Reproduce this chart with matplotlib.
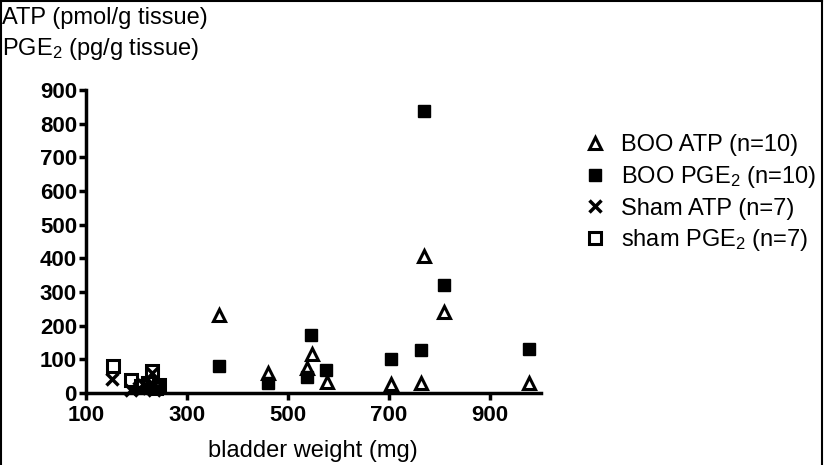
import numpy as np
import matplotlib
matplotlib.use('Agg')
import matplotlib.pyplot as plt
from matplotlib.lines import Line2D

plt.rcParams['font.family'] = ['Liberation Sans', 'DejaVu Sans']
plt.rcParams['mathtext.default'] = 'regular'

#------------ données ------------
boo_atp_x = [364, 460, 538, 548, 577, 704, 763, 769, 809, 977]
boo_atp_y = [231, 58, 75, 115, 34, 27, 29, 407, 241, 31]

boo_pge_x = [363, 460, 537, 545, 575, 703, 763, 769, 808, 977]
boo_pge_y = [80, 31, 47, 172, 68, 101, 128, 837, 320, 130]

sham_atp_x = [151, 190, 205, 215, 231, 235, 243]
sham_atp_y = [41, 10, 15, 25, 58, 8, 18]

sham_pge_x = [153, 189, 208, 222, 231, 238, 245]
sham_pge_y = [80, 39, 22, 30, 66, 15, 25]

labels = ['BOO ATP (n=10)', 'BOO PGE$_2$ (n=10)', 'Sham ATP (n=7)', 'sham PGE$_2$ (n=7)']
xticks = [100, 300, 500, 700, 900]
yticks = [0, 100, 200, 300, 400, 500, 600, 700, 800, 900]

#------------ figure ------------
W, H = 830, 465
fig = plt.figure(figsize=(W / 100, H / 100), dpi=100)
ax = fig.add_axes([86 / W, 1 - 393 / H, (540.5 - 86) / W, (393 - 90) / H])

ax.plot(boo_atp_x, boo_atp_y, ls='none', marker='^', ms=8, mfc='white', mec='black', mew=2.2, clip_on=False)
ax.plot(boo_pge_x, boo_pge_y, ls='none', marker='s', ms=8.5, mfc='black', mec='black', mew=1, clip_on=False)
ax.plot(sham_pge_x, sham_pge_y, ls='none', marker='s', ms=8, mfc='none', mec='black', mew=2.2, clip_on=False)
ax.plot(sham_atp_x, sham_atp_y, ls='none', marker='x', ms=9, mec='black', mew=2.5, clip_on=False)

ax.set_xlim(100, 1000)
ax.set_ylim(0, 900)
ax.set_xticks(xticks)
ax.set_yticks(yticks)

for s in ['top', 'right']:
    ax.spines[s].set_visible(False)
for s in ['left', 'bottom']:
    ax.spines[s].set_linewidth(2.5)
    ax.spines[s].set_capstyle('projecting')
ax.tick_params(width=2.5, length=5, labelsize=16)
ax.tick_params(axis='y', pad=1.5)
ax.tick_params(axis='x', pad=3.5)
for t in ax.get_xticklabels() + ax.get_yticklabels():
    t.set_fontweight('bold')

ax.set_xlabel('bladder weight (mg)', fontsize=17, labelpad=10)

fig.text(2 / W, 1 - 7 / H, 'ATP (pmol/g tissue)\nPGE$_2$ (pg/g tissue)', fontsize=17,
         ha='left', va='top', linespacing=1.35)

handles = [
    Line2D([], [], ls='none', marker='^', ms=8, mfc='white', mec='black', mew=2.2),
    Line2D([], [], ls='none', marker='s', ms=8.5, mfc='black', mec='black', mew=1),
    Line2D([], [], ls='none', marker='x', ms=9, mec='black', mew=2.5),
    Line2D([], [], ls='none', marker='s', ms=8, mfc='none', mec='black', mew=2.2),
]
ax.legend(handles, labels, loc='upper left', bbox_to_anchor=(583 / W, 1 - 134 / H),
          bbox_transform=fig.transFigure, frameon=False, fontsize=17,
          borderpad=0, borderaxespad=0, handlelength=1.0, handletextpad=0.6,
          labelspacing=0.33)

# cadre de la figure (gauche, haut, droite)
fig.add_artist(Line2D([1 / W, 1 / W], [0, 1 - 1 / H], color='black', lw=1.5))
fig.add_artist(Line2D([1 / W, 822 / W], [1 - 1 / H, 1 - 1 / H], color='black', lw=1.5))
fig.add_artist(Line2D([822 / W, 822 / W], [0, 1 - 1 / H], color='black', lw=1.5))

fig.savefig('out.png', dpi=100)
